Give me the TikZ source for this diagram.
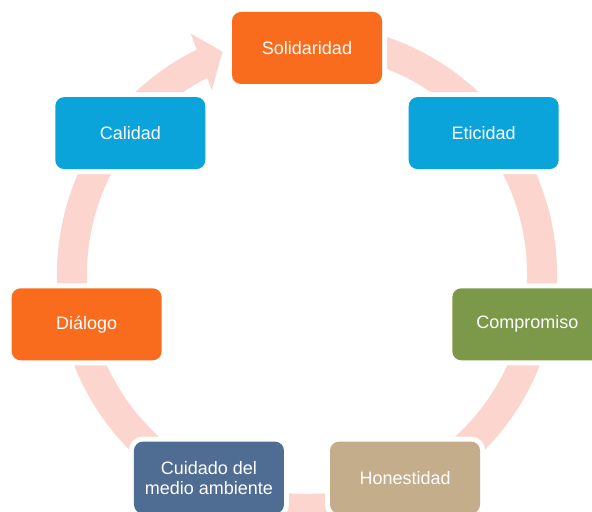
\documentclass[tikz,border=0pt]{standalone}
\usepackage{fontspec}
\setmainfont{Liberation Sans}
\usetikzlibrary{calc}
\definecolor{ringpink}{RGB}{251,213,206}
\definecolor{corange}{RGB}{249,108,30}
\definecolor{cblue}{RGB}{10,163,218}
\definecolor{cgreen}{RGB}{124,153,74}
\definecolor{cslate}{RGB}{79,108,146}
\definecolor{ctan}{RGB}{196,173,138}
\tikzset{
  cyclebox/.style={rectangle, rounded corners=9bp, minimum width=150bp, minimum height=72bp,
    inner sep=0pt, text=white, align=center,
    font=\fontsize{18bp}{20bp}\selectfont,
    preaction={draw=white, line width=10bp}},
  ringline/.style={draw=ringpink, line width=30bp, line cap=butt},
  ringhead/.style={fill=ringpink, draw=none}
}
\begin{document}
\begin{tikzpicture}[x=1bp,y=1bp]
\useasboundingbox (0,0) rectangle (592,512);
\coordinate (c) at (307,238);
% ring
\draw[ringline] ($(c)+(85:235)$) arc[start angle=85, end angle=-243.8, radius=235];
\fill[ringhead] ($(c)+(115.8:267)$) coordinate (h1) -- ($(c)+(110.8:237.7)$) coordinate (ht) -- ($(c)+(117.4:207)$) coordinate (h2) -- cycle;
% boxes
\node[cyclebox, fill=corange] (sol) at ($(c)+(90:226)$) {Solidaridad};
\node[cyclebox, fill=cblue] (eti) at ($(c)+(38.57:226)$) {Eticidad};
\node[cyclebox, fill=cgreen] (com) at ($(c)+(347.14:226)$) {Compromiso};
\node[cyclebox, fill=ctan] (hon) at ($(c)+(295.71:226)$) {Honestidad};
\node[cyclebox, fill=cslate] (cui) at ($(c)+(244.29:226)$) {Cuidado del\\medio ambiente};
\node[cyclebox, fill=corange] (dia) at ($(c)+(192.86:226)$) {Diálogo};
\node[cyclebox, fill=cblue] (cal) at ($(c)+(141.43:226)$) {Calidad};
\end{tikzpicture}
\end{document}
